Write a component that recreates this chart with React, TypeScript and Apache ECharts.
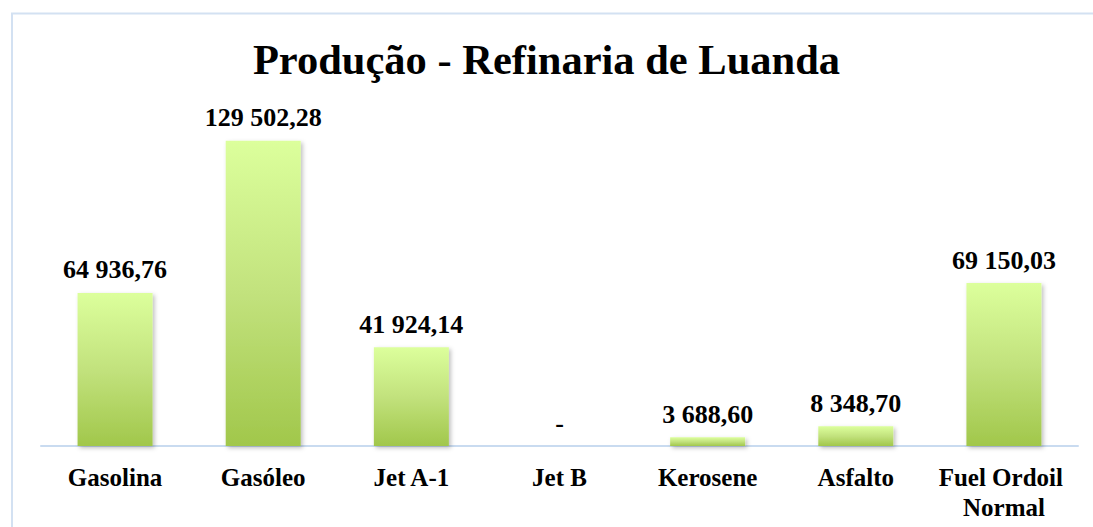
import React, { useEffect, useRef } from "react";
import * as echarts from "echarts";

const titleText = "Produção - Refinaria de Luanda";
const categories = ["Gasolina", "Gasóleo", "Jet A-1", "Jet B", "Kerosene", "Asfalto", "Fuel Ordoil Normal"];
const production = [64936.76, 129502.28, 41924.14, 0, 3688.6, 8348.7, 69150.03];

const FONT = "'Liberation Serif', 'DejaVu Serif', serif";

function fmt(v: number): string {
  if (!v) return "-";
  const [intPart, dec] = v.toFixed(2).split(".");
  const withSep = intPart.replace(/\B(?=(\d{3})+(?!\d))/g, " ");
  return withSep + "," + dec;
}

export default function App() {
  const ref = useRef<HTMLDivElement>(null);
  useEffect(() => {
    document.body.style.margin = "0";
    const chart = echarts.init(ref.current!, undefined, { renderer: "svg" });
    chart.setOption({
      animation: false,
      backgroundColor: "#ffffff",
      title: {
        text: titleText,
        left: "center",
        top: 33,
        textStyle: { fontFamily: FONT, fontWeight: "bold", fontSize: 42.5, color: "#000000" },
      },
      graphic: [
        {
          type: "rect",
          shape: { x: 12, y: 13.5, width: 1200, height: 700 },
          style: { fill: "none", stroke: "#d3e1f2", lineWidth: 2 },
          silent: true,
          z: -1,
        },
      ],
      grid: { left: 41, right: 15, top: 116, bottom: 81, containLabel: false },
      xAxis: {
        type: "category",
        data: categories,
        axisLine: { show: true, lineStyle: { color: "#c9dbf0", width: 2 } },
        axisTick: { show: false },
        axisLabel: {
          interval: 0,
          margin: 16,
          fontFamily: FONT,
          fontWeight: "bold",
          fontSize: 25,
          lineHeight: 30,
          color: "#000000",
          width: 135,
          overflow: "break",
        },
      },
      yAxis: {
        type: "value",
        min: 0,
        max: 140000,
        show: false,
        splitLine: { show: false },
      },
      series: [
        {
          type: "bar",
          data: production,
          barWidth: 75,
          itemStyle: {
            color: new echarts.graphic.LinearGradient(0, 0, 0, 1, [
              { offset: 0, color: "#dcff9c" },
              { offset: 0.5, color: "#c2e27d" },
              { offset: 1, color: "#a1c74b" },
            ]),
            shadowBlur: 4,
            shadowColor: "rgba(0,0,0,0.25)",
            shadowOffsetX: 2,
            shadowOffsetY: 2,
          },
          label: {
            show: true,
            position: "top",
            distance: 10,
            fontFamily: FONT,
            fontWeight: "bold",
            fontSize: 26,
            lineHeight: 26,
            color: "#000000",
            formatter: (p: any) => fmt(p.value),
          },
        },
      ],
    });
    return () => chart.dispose();
  }, []);
  return <div ref={ref} style={{ width: 1093, height: 527 }} />;
}
